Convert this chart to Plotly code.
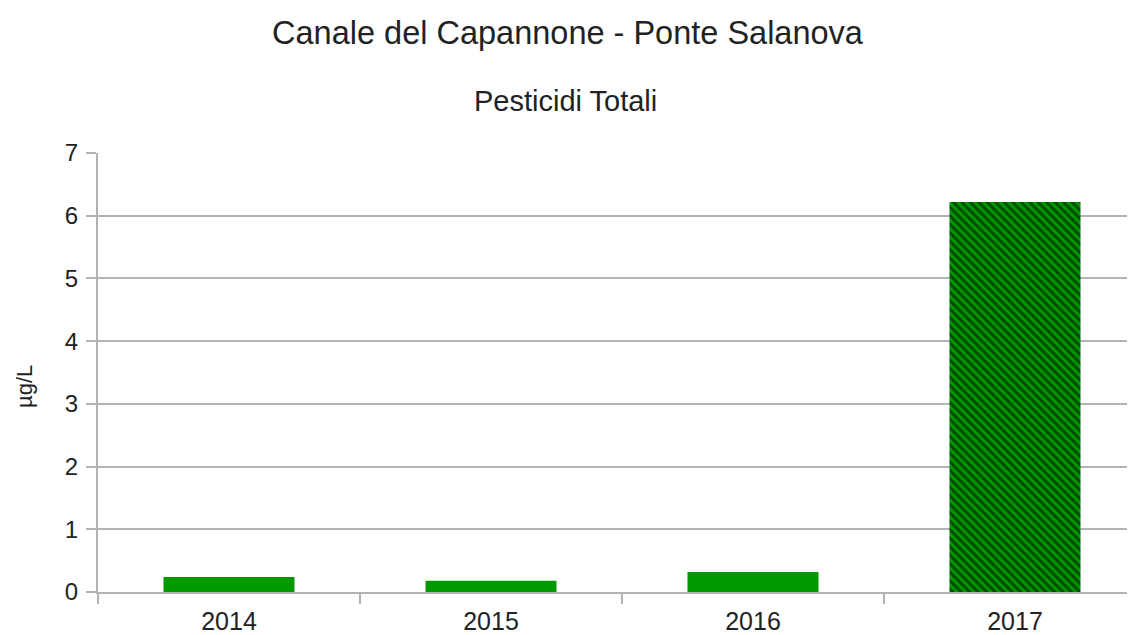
import plotly.graph_objects as go

years = ["2014", "2015", "2016", "2017"]
values = [0.24, 0.18, 0.32, 6.22]
patterns = ["", "", "", "\\"]
y_ticks = [0, 1, 2, 3, 4, 5, 6, 7]

title_text = "Canale del Capannone - Ponte Salanova"
subtitle_text = "Pesticidi Totali"
y_title = "µg/L"

GREEN = "#009900"
GRID = "#b3b3b3"
TEXT = "#222222"
FONT = "Liberation Sans"

W, H = 1127, 627
L, T, B = 90, 145, 43
PW, PH = W - L, H - T - B

fig = go.Figure()
fig.add_trace(go.Bar(
    x=years,
    y=values,
    width=0.5,
    marker=dict(
        color=GREEN,
        line=dict(width=0),
        pattern=dict(shape=patterns, fgcolor="#000000", bgcolor=GREEN,
                     size=6, solidity=0.5, fillmode="overlay"),
    ),
))

fig.update_layout(
    width=W,
    height=H,
    margin=dict(l=L, r=0, t=T, b=B, pad=0),
    plot_bgcolor="white",
    paper_bgcolor="white",
    showlegend=False,
    font=dict(family=FONT, color=TEXT, size=24),
    title=dict(text=title_text, x=(567.5 - 8) / W, xanchor="center",
               y=1 - 25 / H, yanchor="middle",
               font=dict(family=FONT, size=32.5, color=TEXT)),
    annotations=[
        dict(text=subtitle_text, xref="paper", yref="paper",
             x=(557 - L) / PW, y=1 + (T - 93) / PH,
             xanchor="center", yanchor="middle", showarrow=False,
             font=dict(family=FONT, size=29, color=TEXT)),
        dict(text=y_title, xref="paper", yref="paper",
             x=(16 - L) / PW, y=(H - B - 379) / PH, textangle=-90,
             xanchor="center", yanchor="middle", showarrow=False,
             font=dict(family=FONT, size=22, color=TEXT)),
    ],
    xaxis=dict(
        type="category",
        range=[-0.5, 3.458],
        tickson="boundaries",
        ticks="outside",
        ticklen=10,
        tickcolor=GRID,
        tickwidth=2,
        ticklabelstandoff=6,
        showgrid=False,
        showline=True,
        linecolor=GRID,
        linewidth=2,
        tickfont=dict(size=25, color=TEXT),
    ),
    yaxis=dict(
        range=[0, 7],
        tickvals=y_ticks,
        ticks="outside",
        ticklen=10,
        tickcolor=GRID,
        tickwidth=2,
        ticklabelstandoff=3,
        showgrid=True,
        gridcolor=GRID,
        gridwidth=2,
        zeroline=False,
        showline=True,
        linecolor=GRID,
        linewidth=2,
        tickfont=dict(size=24, color=TEXT),
    ),
)

fig.write_html("out.html")
